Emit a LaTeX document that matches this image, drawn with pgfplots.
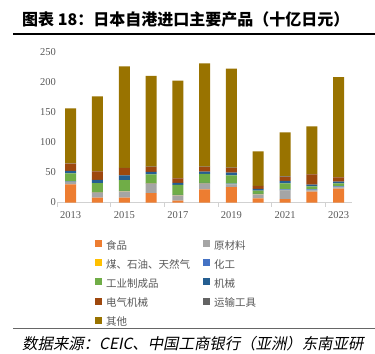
\documentclass[border=0pt]{standalone}
\usepackage{fontspec}
\setmainfont{Liberation Serif}
\newfontfamily\cjk{Noto Sans CJK SC}
\newfontfamily\cjkit{Noto Sans CJK SC}[FakeSlant=0.2]
\usepackage{pgfplots}
\pgfplotsset{compat=1.18}
\definecolor{cFood}{HTML}{ED7D31}
\definecolor{cRaw}{HTML}{A5A5A5}
\definecolor{cCoal}{HTML}{FFC000}
\definecolor{cChem}{HTML}{4472C4}
\definecolor{cInd}{HTML}{70AD47}
\definecolor{cMach}{HTML}{255E91}
\definecolor{cElec}{HTML}{9E480E}
\definecolor{cTrans}{HTML}{636363}
\definecolor{cOther}{HTML}{997300}
\definecolor{labgray}{HTML}{595959}
\begin{document}
\begin{tikzpicture}
\useasboundingbox (0bp,0bp) rectangle (375bp,354bp);
\fill[white] (0bp,0bp) rectangle (375bp,354bp);
\node[anchor=west, inner sep=0pt, font=\cjk\bfseries\fontsize{16bp}{18bp}\selectfont] at (22bp,335bp) {图表 18：日本自港进口主要产品（十亿日元）};
\draw[line width=1.2bp] (13bp,320bp) -- (375bp,320bp);
\draw[line width=0.8bp, black!60] (13bp,26bp) -- (375bp,26bp);
\node[anchor=west, inner sep=0pt, font=\cjkit\fontsize{15.4bp}{18bp}\selectfont] at (22bp,10bp) {数据来源：CEIC、中国工商银行（亚洲）东南亚研};
\begin{axis}[
  at={(57.3bp,151.5bp)}, anchor=south west,
  scale only axis, width=294.7bp, height=150bp,
  xmin=-0.5, xmax=10.5, ymin=0, ymax=250,
  ybar stacked, bar width=11bp,
  axis x line*=bottom, axis y line*=left,
  y axis line style={draw=none},
  x axis line style={color=black!18, line width=0.8bp},
  xtick={0,2,4,6,8,10},
  xticklabels={2013,2015,2017,2019,2021,2023},
  ytick={0,50,100,150,200,250},
  major tick length=0pt,
  extra x ticks={-0.5,1.5,3.5,5.5,7.5,9.5},
  extra x tick labels={},
  extra x tick style={major tick length=4bp, tick align=outside, tick style={color=black!18, line width=0.8bp}},
  ytick style={draw=none},
  tick label style={font=\fontsize{10.5bp}{12bp}\selectfont, text=labgray},
  /pgf/number format/assume math mode=true,
  xticklabel style={yshift=-5bp},
  yticklabel style={xshift=2bp},
  legend columns=2,
  legend cell align=left,
  legend style={draw=none, fill=none, inner xsep=0pt, inner ysep=0pt,
    at={(axis description cs:0.128,-0.25)}, anchor=north west,
    font=\cjk\fontsize{10.5bp}{12bp}\selectfont, text=labgray,
    nodes={inner sep=0pt, text height=7.5bp, text depth=2.5bp},
    /tikz/every odd column/.append style={column sep=4bp},
    row sep=7.3bp},
  legend image code/.code={\fill[#1,draw=none] (0bp,-0.2bp) rectangle (7bp,6.8bp);},
]
\addplot[fill=cFood, draw=none] coordinates {(0,30) (1,8) (2,8) (3,15.5) (4,3.3) (5,22) (6,25.5) (7,7) (8,5.5) (9,18) (10,23)};
\addlegendentry{\makebox[97bp][l]{食品}}
\addplot[fill=cRaw, draw=none] coordinates {(0,4) (1,8) (2,10) (3,15.5) (4,8) (5,9) (6,4.5) (7,6) (8,14.5) (9,2) (10,2)};
\addlegendentry{原材料}
\addplot[fill=cCoal, draw=none] coordinates {(0,0.4) (1,0.4) (2,0.4) (3,0.4) (4,0.4) (5,0.4) (6,0.4) (7,0.4) (8,0.4) (9,0.4) (10,0.4)};
\addlegendentry{\makebox[97bp][l]{煤、石油、天然气}}
\addplot[fill=cChem, draw=none] coordinates {(0,1) (1,1) (2,1) (3,1) (4,1) (5,1.5) (6,1) (7,1) (8,1.5) (9,1.5) (10,1.5)};
\addlegendentry{化工}
\addplot[fill=cInd, draw=none] coordinates {(0,13) (1,15) (2,18) (3,14.5) (4,16.5) (5,15) (6,14) (7,5.5) (8,10) (9,5) (10,5)};
\addlegendentry{\makebox[97bp][l]{工业制成品}}
\addplot[fill=cMach, draw=none] coordinates {(0,4.5) (1,5.5) (2,8) (3,4) (4,3.3) (5,3.5) (6,4.5) (7,3) (8,4) (9,3) (10,3)};
\addlegendentry{机械}
\addplot[fill=cElec, draw=none] coordinates {(0,12) (1,14) (2,12) (3,8.3) (4,7.7) (5,8) (6,7.7) (7,4.5) (8,7) (9,17) (10,7)};
\addlegendentry{\makebox[97bp][l]{电气机械}}
\addplot[fill=cTrans, draw=none] coordinates {(0,0.5) (1,0.5) (2,0.5) (3,0.5) (4,0.5) (5,0.5) (6,0.5) (7,0.5) (8,0.5) (9,0.5) (10,0.5)};
\addlegendentry{运输工具}
\addplot[fill=cOther, draw=none] coordinates {(0,91.6) (1,124.6) (2,169.1) (3,151.3) (4,162.3) (5,172.1) (6,164.9) (7,57.1) (8,73.6) (9,79.6) (10,166.6)};
\addlegendentry{其他}
\end{axis}
\end{tikzpicture}
\end{document}
